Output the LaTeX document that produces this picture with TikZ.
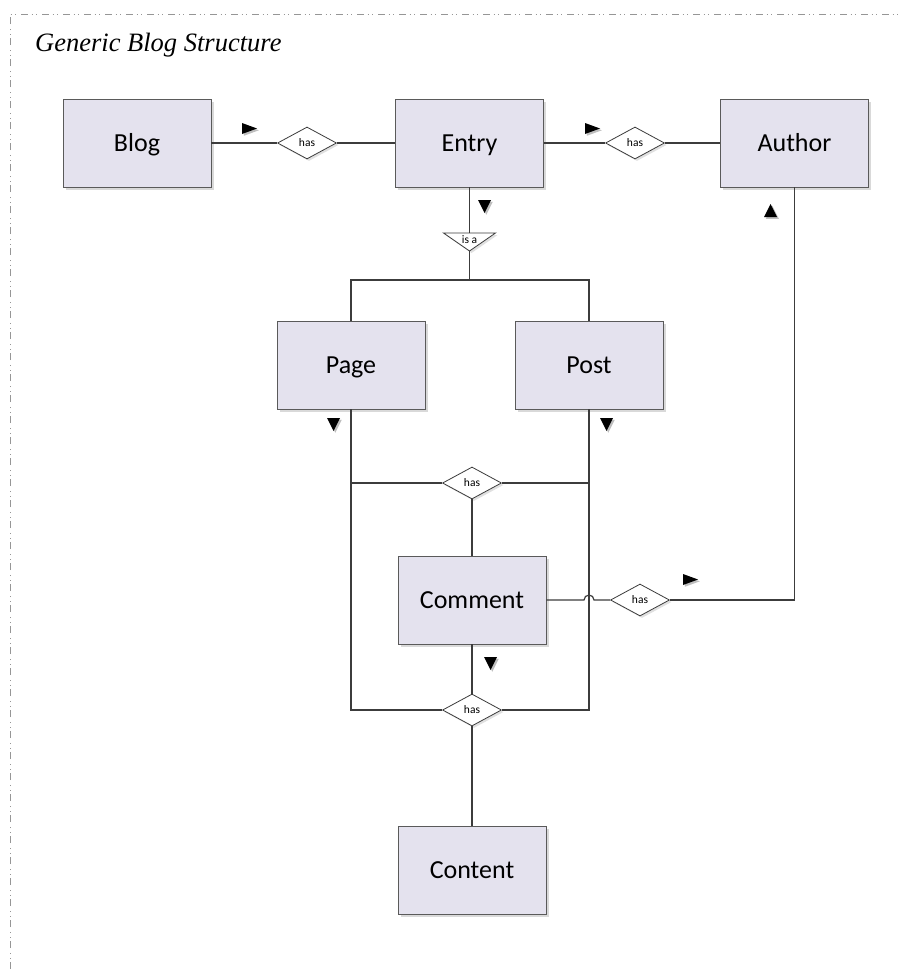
\documentclass[tikz,border=0pt]{standalone}
\usepackage{fontspec}
\newfontfamily\boxfont{Carlito}
\newfontfamily\titlefont{Liberation Serif}
\usetikzlibrary{shapes.geometric,shadows}
\definecolor{boxfill}{RGB}{228,226,238}
\definecolor{boxline}{RGB}{90,90,90}
\definecolor{connline}{RGB}{60,60,60}
\definecolor{bordergray}{RGB}{150,150,150}
\begin{document}
\begin{tikzpicture}[x=1pt,y=-1pt,
  ent/.style={draw=boxline, fill=boxfill, line width=0.9pt, minimum width=148pt, minimum height=88pt, inner sep=0pt,
    font=\boxfont\fontsize{26}{30}\selectfont, text height=16.8pt, text depth=0pt,
    drop shadow={shadow xshift=2.5pt, shadow yshift=-2.5pt, fill=black!15, opacity=1}},
  rel/.style={diamond, draw=connline, fill=white, line width=0.8pt, minimum width=59pt, minimum height=32pt, inner sep=0pt,
    font=\boxfont\fontsize{11.5}{12}\selectfont,
    drop shadow={shadow xshift=2pt, shadow yshift=-2pt, fill=black!12, opacity=1}},
  conn/.style={draw=connline, line width=1.2pt},
  rolemk/.style={fill=black, drop shadow={shadow xshift=1.8pt, shadow yshift=-1.8pt, fill=black!25, opacity=1}},
  borderline/.style={draw=bordergray, line width=0.8pt, dash pattern=on 7pt off 3.5pt on 1pt off 3.5pt on 1pt off 5pt}
]
\useasboundingbox (0,0) rectangle (903,969);
\fill[white] (0,0) rectangle (903,969);
\draw[borderline] (10,969) -- (10,14) -- (903,14);
\node[anchor=base west, inner sep=0pt, font=\titlefont\itshape\fontsize{26.5}{30}\selectfont] (title) at (35,51) {Generic Blog Structure};

% entities
\node[ent] (blog) at (137,143) {Blog};
\node[ent] (entry) at (469.5,143) {Entry};
\node[ent] (author) at (794.5,143) {Author};
\node[ent] (page) at (351,365) {Page};
\node[ent] (post) at (589,365) {Post};
\node[ent] (comment) at (472,600) {Comment};
\node[ent] (content) at (472,870) {Content};

% relationships
\node[rel] (has1) at (307,143) {has};
\node[rel] (has2) at (635,143) {has};
\node[rel] (has3) at (472,483) {has};
\node[rel] (has4) at (640,600) {has};
\node[rel] (has5) at (472,710) {has};

% is-a triangle
\coordinate (isatop) at (469.5,233);
\coordinate (isatip) at (469.5,251);
\coordinate (split) at (469.5,280);
\filldraw[draw=connline, fill=white, line width=0.8pt, drop shadow={shadow xshift=2pt, shadow yshift=-2pt, fill=black!12, opacity=1}]
  (443.5,233) -- (495.5,233) -- (isatip) -- cycle;
\node[font=\boxfont\fontsize{11.5}{12}\selectfont, inner sep=0pt] (isa) at (469.5,239.5) {is a};

% connectors
\draw[conn] (blog.east) -- (has1.west);
\draw[conn] (has1.east) -- (entry.west);
\draw[conn] (entry.east) -- (has2.west);
\draw[conn] (has2.east) -- (author.west);
\draw[conn] (entry.south) -- (isatop);
\draw[conn] (isatip) -- (split);
\draw[conn] (split) -| (page.north);
\draw[conn] (split) -| (post.north);
\draw[conn] (page.south) |- (has3.west);
\draw[conn] (post.south) |- (has3.east);
\draw[conn] (has3.south) -- (comment.north);
\draw[conn] (page.south) |- (has5.west);
\draw[conn] (post.south) |- (has5.east);
\draw[conn] (comment.south) -- (has5.north);
\draw[conn] (has5.south) -- (content.north);
\coordinate (hopL) at (584,600);
\draw[conn] (comment.east) -- (hopL) arc[start angle=180, end angle=360, radius=5] -- (has4.west);
\draw[conn] (has4.east) -| (author.south);

% role markers
\path[rolemk] (242,123) -- (257,128.5) -- (242,134) -- cycle;
\path[rolemk] (585,123) -- (600,128.5) -- (585,134) -- cycle;
\path[rolemk] (478,200) -- (491,200) -- (484.5,213) -- cycle;
\path[rolemk] (327,418) -- (340,418) -- (333.5,431) -- cycle;
\path[rolemk] (600,418) -- (613,418) -- (606.5,431) -- cycle;
\path[rolemk] (484,657) -- (497,657) -- (490.5,670) -- cycle;
\path[rolemk] (764,217) -- (777,217) -- (770.5,204) -- cycle;
\path[rolemk] (683,574) -- (698,579.5) -- (683,585) -- cycle;
\end{tikzpicture}
\end{document}
